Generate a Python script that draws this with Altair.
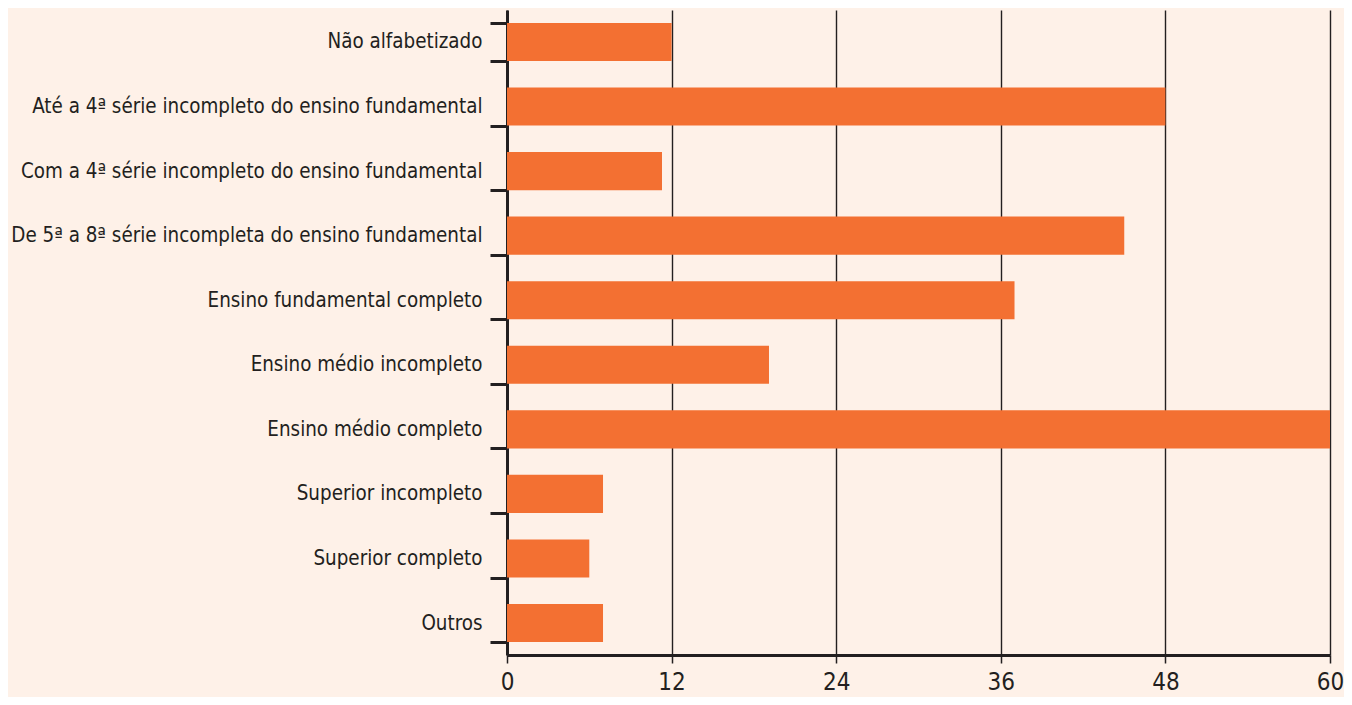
import altair as alt
import pandas as pd

categories = [
    "Não alfabetizado",
    "Até a 4ª série incompleto do ensino fundamental",
    "Com a 4ª série incompleto do ensino fundamental",
    "De 5ª a 8ª série incompleta do ensino fundamental",
    "Ensino fundamental completo",
    "Ensino médio incompleto",
    "Ensino médio completo",
    "Superior incompleto",
    "Superior completo",
    "Outros",
]
values = [12, 48, 11.3, 45, 37, 19.1, 60, 7, 6, 7]
x_ticks = [0, 12, 24, 36, 48, 60]

df = pd.DataFrame({"cat": categories, "val": values})

BG = "#FEF1E8"
BAR = "#F37032"
INK = "#231F20"
FONT = "DejaVu Sans Condensed, Roboto, sans-serif"

chart = (
    alt.Chart(df)
    .mark_bar(color=BAR)
    .encode(
        x=alt.X(
            "val:Q",
            scale=alt.Scale(domain=[0, 60], nice=False),
            axis=alt.Axis(
                values=x_ticks,
                title=None,
                grid=True,
                gridColor=INK,
                gridWidth=1.4,
                gridOpacity=1,
                domainColor=INK,
                domainWidth=3,
                tickColor=INK,
                tickWidth=1.5,
                tickSize=8,
                labelFont=FONT,
                labelFontSize=24,
                labelColor=INK,
                labelPadding=7,
                labelFlush=False,
            ),
        ),
        y=alt.Y(
            "cat:N",
            sort=categories,
            scale=alt.Scale(paddingInner=0.41, paddingOuter=0.2),
            axis=alt.Axis(
                title=None,
                tickBand="extent",
                domainColor=INK,
                domainWidth=3,
                tickColor=INK,
                tickWidth=3,
                tickSize=17,
                labelFont=FONT,
                labelFontSize=20.4,
                labelColor=INK,
                labelPadding=8,
                labelLimit=600,
            ),
        ),
    )
    .properties(
        width=823,
        height=645,
        background=BG,
        padding={"left": 499, "top": 2, "right": 14, "bottom": 42},
        autosize=alt.AutoSizeParams(type="none"),
    )
    .configure_view(stroke=None)
)

chart.save("out.html", embed_options={"renderer": "svg", "actions": False})
